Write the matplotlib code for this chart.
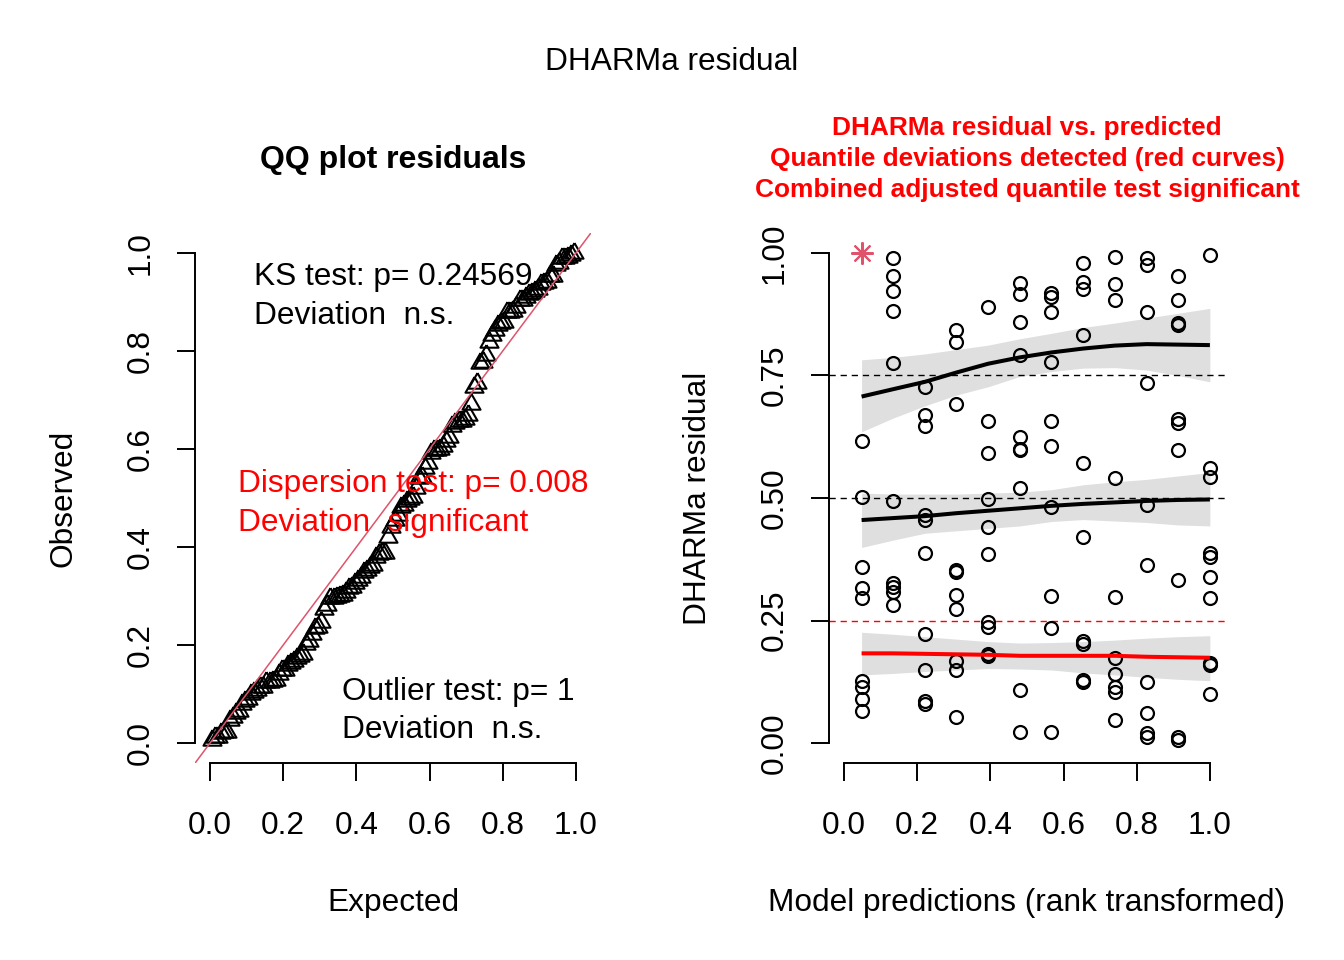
import matplotlib
matplotlib.use("Agg")
import matplotlib.pyplot as plt
import numpy as np
from matplotlib.ticker import FormatStrFormatter

plt.rcParams['font.family'] = ['Liberation Sans', 'DejaVu Sans']

# rank transformed model predictions (12 tied groups of 10 observations)
pred_groups = [0.048, 0.134, 0.221, 0.307, 0.394, 0.481, 0.567, 0.654, 0.740, 0.827, 0.913, 1.0]

# scaled residuals per prediction group
res_groups = [
    [1.000, 0.617, 0.503, 0.360, 0.316, 0.295, 0.127, 0.115, 0.089, 0.065],
    [0.990, 0.952, 0.923, 0.881, 0.776, 0.494, 0.326, 0.318, 0.309, 0.282],
    [0.726, 0.669, 0.647, 0.465, 0.455, 0.388, 0.222, 0.148, 0.086, 0.080],
    [0.843, 0.819, 0.691, 0.353, 0.350, 0.302, 0.273, 0.168, 0.150, 0.054],
    [0.890, 0.658, 0.592, 0.497, 0.440, 0.386, 0.246, 0.237, 0.181, 0.178],
    [0.939, 0.916, 0.860, 0.792, 0.625, 0.601, 0.597, 0.521, 0.108, 0.023],
    [0.919, 0.911, 0.879, 0.778, 0.658, 0.606, 0.481, 0.299, 0.234, 0.023],
    [0.979, 0.941, 0.926, 0.833, 0.572, 0.421, 0.209, 0.202, 0.129, 0.125],
    [0.992, 0.936, 0.905, 0.540, 0.297, 0.173, 0.141, 0.115, 0.105, 0.048],
    [0.990, 0.976, 0.880, 0.735, 0.486, 0.363, 0.125, 0.061, 0.020, 0.013],
    [0.954, 0.904, 0.858, 0.853, 0.661, 0.654, 0.598, 0.333, 0.013, 0.006],
    [0.996, 0.561, 0.542, 0.387, 0.380, 0.339, 0.295, 0.164, 0.159, 0.101],
]

# quantile regression fits (0.25, 0.5, 0.75) with confidence bands
q75 = [0.707, 0.722, 0.737, 0.756, 0.774, 0.787, 0.797, 0.805, 0.811, 0.814, 0.813, 0.812]
q75_hi = [0.782, 0.787, 0.794, 0.803, 0.812, 0.825, 0.836, 0.848, 0.857, 0.867, 0.877, 0.887]
q75_lo = [0.635, 0.663, 0.688, 0.710, 0.727, 0.748, 0.758, 0.765, 0.766, 0.761, 0.750, 0.737]
q50 = [0.455, 0.459, 0.463, 0.469, 0.474, 0.479, 0.484, 0.488, 0.491, 0.494, 0.496, 0.497]
q50_hi = [0.510, 0.508, 0.508, 0.508, 0.510, 0.512, 0.517, 0.527, 0.533, 0.538, 0.545, 0.552]
q50_lo = [0.399, 0.414, 0.428, 0.433, 0.438, 0.443, 0.452, 0.456, 0.453, 0.450, 0.445, 0.443]
q25 = [0.183, 0.183, 0.182, 0.181, 0.180, 0.178, 0.178, 0.178, 0.178, 0.176, 0.175, 0.174]
q25_hi = [0.226, 0.222, 0.217, 0.212, 0.207, 0.204, 0.205, 0.207, 0.210, 0.214, 0.217, 0.219]
q25_lo = [0.139, 0.142, 0.146, 0.149, 0.152, 0.151, 0.149, 0.143, 0.139, 0.134, 0.130, 0.127]

ks_p = "0.24569"
disp_p = "0.008"
out_p = "1"

FS = 22.8
PINK = '#DF536B'

pred = np.repeat(pred_groups, [len(g) for g in res_groups])
res = np.concatenate([np.array(g) for g in res_groups])
n = len(res)
expected = (np.arange(1, n + 1) - 0.5) / n
observed = np.sort(res)

fig = plt.figure(figsize=(13.44, 9.6), dpi=100)
fig.text(0.5, 0.935, "DHARMa residual", ha='center', va='center', fontsize=FS)

tri_verts = [(0, 1), (0.866, -0.5), (-0.866, -0.5), (0, 1)]


def style_axes(ax, ticks, fmt):
    ax.set_xlim(-0.04, 1.04)
    ax.set_ylim(-0.04, 1.04)
    for s in ['top', 'right']:
        ax.spines[s].set_visible(False)
    for s in ['left', 'bottom']:
        ax.spines[s].set_bounds(0, 1)
        ax.spines[s].set_linewidth(1.4)
    ax.set_xticks(ticks)
    ax.set_yticks(ticks, [fmt % t for t in ticks], rotation=90, va='center')
    ax.xaxis.set_major_formatter(FormatStrFormatter(fmt))
    ax.tick_params(axis='both', length=13, width=1.4, labelsize=FS)
    ax.tick_params(axis='x', pad=22)
    ax.tick_params(axis='y', pad=15.5)


def put_labels(ax, xlabel, ylabel, ypos):
    ax.text(0.5, -0.2655, xlabel, transform=ax.transAxes, ha='center', va='center', fontsize=FS)
    ax.text(ypos, 0.5, ylabel, transform=ax.transAxes, ha='center', va='center',
            rotation=90, fontsize=FS)


# QQ plot
ax1 = fig.add_axes([0.1454, 0.2056, 0.2940, 0.5513])
ax1.plot(expected, observed, linestyle='none', marker=tri_verts, markersize=15,
         markerfacecolor='none', markeredgecolor='black', markeredgewidth=1.5)
ax1.plot([-0.1, 1.1], [-0.1, 1.1], color=PINK, lw=1.1)
style_axes(ax1, [0.0, 0.2, 0.4, 0.6, 0.8, 1.0], '%.1f')
ax1.text(0.5, 1.138, "QQ plot residuals", transform=ax1.transAxes, ha='center', va='center',
         fontsize=23, fontweight='bold')
put_labels(ax1, "Expected", "Observed", -0.3335)

ax1.text(0.120, 0.951, "KS test: p= " + ks_p, fontsize=FS, va='center')
ax1.text(0.120, 0.872, "Deviation  n.s.", fontsize=FS, va='center')
ax1.text(0.0765, 0.529, "Dispersion test: p= " + disp_p, fontsize=FS, va='center', color='red')
ax1.text(0.0765, 0.449, "Deviation  significant", fontsize=FS, va='center', color='red')
ax1.text(0.361, 0.104, "Outlier test: p= " + out_p, fontsize=FS, va='center')
ax1.text(0.361, 0.027, "Deviation  n.s.", fontsize=FS, va='center')

# residuals vs predicted
ax2 = fig.add_axes([0.6171, 0.2056, 0.2940, 0.5513])
outlier = (res >= 1.0) | (res <= 0.0)
ax2.plot(pred[~outlier], res[~outlier], linestyle='none', marker='o', markersize=9.3,
         markerfacecolor='none', markeredgecolor='black', markeredgewidth=1.6, zorder=2)
ax2.plot(pred[outlier], res[outlier], linestyle='none', marker=(8, 2, 0), markersize=16,
         markeredgecolor=PINK, markeredgewidth=1.5, zorder=2)
ax2.axhline(0.25, color='red', lw=1, ls=(0, (4.5, 3.5)), zorder=1)
ax2.axhline(0.5, color='black', lw=1, ls=(0, (4.5, 3.5)), zorder=1)
ax2.axhline(0.75, color='black', lw=1, ls=(0, (4.5, 3.5)), zorder=1)

for mid, lo, hi, col in [(q25, q25_lo, q25_hi, 'red'),
                         (q50, q50_lo, q50_hi, 'black'),
                         (q75, q75_lo, q75_hi, 'black')]:
    ax2.fill_between(pred_groups, lo, hi, color='black', alpha=0.125, lw=0, zorder=3)
    ax2.plot(pred_groups, mid, color=col, lw=2.9, zorder=4, solid_capstyle='butt')

style_axes(ax2, [0.0, 0.25, 0.5, 0.75, 1.0], '%.2f')
ax2.set_xticks([0.0, 0.2, 0.4, 0.6, 0.8, 1.0])
ax2.xaxis.set_major_formatter(FormatStrFormatter('%.1f'))
ax2.text(0.5, 1.140, "DHARMa residual vs. predicted\nQuantile deviations detected (red curves)\n"
         "Combined adjusted quantile test significant", transform=ax2.transAxes,
         ha='center', va='center', fontsize=18.9, fontweight='bold', color='red',
         linespacing=1.37)
put_labels(ax2, "Model predictions (rank transformed)", "DHARMa residual", -0.333)

fig.savefig("out.png", dpi=100)
